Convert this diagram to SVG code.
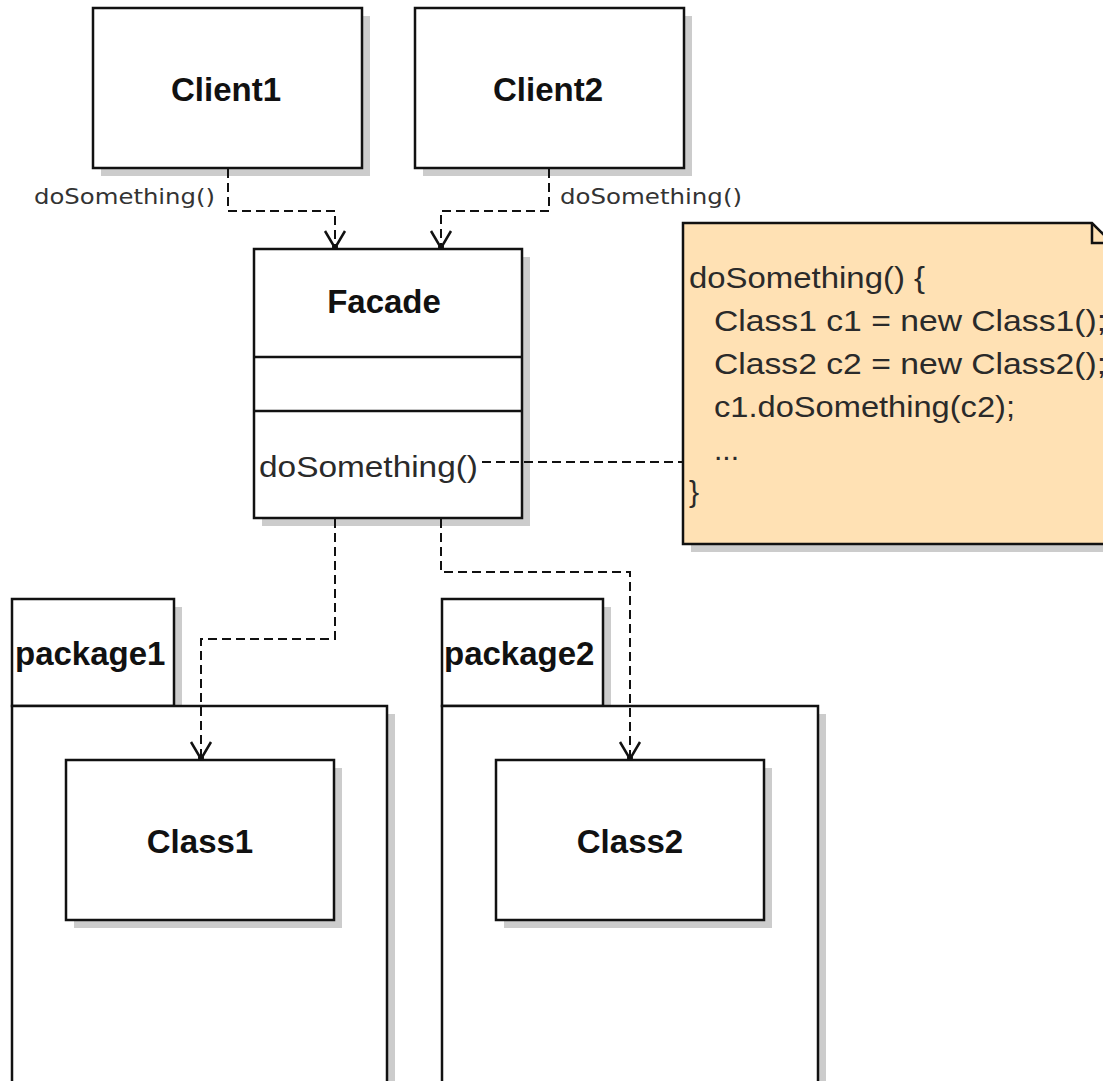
<svg xmlns="http://www.w3.org/2000/svg" width="1103" height="1081" viewBox="0 0 1103 1081">
<defs>
<style>
.box{fill:#ffffff;stroke:#111111;stroke-width:2.5}
.shadow{fill:#cccccc}
.note{fill:#ffe1b4;stroke:#111111;stroke-width:2.5}
.title{font-family:"Liberation Sans",Arial,sans-serif;font-weight:bold;font-size:33px;fill:#111111}
.code{font-family:"Liberation Sans",Arial,sans-serif;font-size:30px;fill:#2a2a2a}
.lbl{font-family:"DejaVu Sans","Open Sans",sans-serif;font-size:21px;fill:#333333}
.dash{fill:none;stroke:#111111;stroke-width:2;stroke-dasharray:9 5}
</style>
<marker id="open" viewBox="-20 -12 22 24" refX="0" refY="0" markerWidth="22" markerHeight="24" markerUnits="userSpaceOnUse" orient="auto">
<path d="M -17 -10 L 0 0 L -17 10" fill="none" stroke="#111111" stroke-width="2.5" stroke-dasharray="none"/>
<circle cx="-1" cy="0" r="3" fill="#111111"/>
</marker>
</defs>
<rect width="1103" height="1081" fill="#ffffff"/>

<g id="package1">
<rect class="shadow" x="20" y="607" width="162" height="107"/>
<rect class="shadow" x="20" y="714" width="375" height="380"/>
<rect class="box" x="12" y="599" width="162" height="107"/>
<rect class="box" x="12" y="706" width="375" height="380"/>
<text class="title" x="15" y="665">package1</text>
</g>

<g id="package2">
<rect class="shadow" x="450" y="607" width="161" height="107"/>
<rect class="shadow" x="450" y="714" width="376" height="380"/>
<rect class="box" x="442" y="599" width="161" height="107"/>
<rect class="box" x="442" y="706" width="376" height="380"/>
<text class="title" x="444" y="665">package2</text>
</g>

<g id="client1">
<rect class="shadow" x="101" y="16" width="269" height="160"/>
<rect class="box" x="93" y="8" width="269" height="160"/>
<text class="title" x="226" y="101" text-anchor="middle">Client1</text>
</g>

<g id="client2">
<rect class="shadow" x="423" y="16" width="269" height="160"/>
<rect class="box" x="415" y="8" width="269" height="160"/>
<text class="title" x="548" y="101" text-anchor="middle">Client2</text>
</g>

<g id="facade">
<rect class="shadow" x="262" y="257" width="268" height="269"/>
<rect class="box" x="254" y="249" width="268" height="269"/>
<line x1="254" y1="357" x2="522" y2="357" stroke="#111111" stroke-width="2.5"/>
<line x1="254" y1="411" x2="522" y2="411" stroke="#111111" stroke-width="2.5"/>
<text class="title" x="384" y="313" text-anchor="middle">Facade</text>
<text class="code" x="259" y="477" textLength="219" lengthAdjust="spacingAndGlyphs">doSomething()</text>
</g>

<g id="note">
<rect class="shadow" x="691" y="231" width="420" height="321"/>
<path class="note" d="M 683 223 L 1092 223 L 1112 243 L 1112 544 L 683 544 Z"/>
<path d="M 1092 223 L 1092 243 L 1112 243" fill="none" stroke="#111111" stroke-width="2.5"/>
<text class="code" x="689" y="288" textLength="236" lengthAdjust="spacingAndGlyphs">doSomething() {</text>
<text class="code" x="714" y="331" textLength="392" lengthAdjust="spacingAndGlyphs">Class1 c1 = new Class1();</text>
<text class="code" x="714" y="374" textLength="392" lengthAdjust="spacingAndGlyphs">Class2 c2 = new Class2();</text>
<text class="code" x="714" y="417" textLength="301" lengthAdjust="spacingAndGlyphs">c1.doSomething(c2);</text>
<text class="code" x="714" y="460" font-size="22">...</text>
<text class="code" x="689" y="502">}</text>
</g>

<g id="class1">
<rect class="shadow" x="74" y="768" width="268" height="160"/>
<rect class="box" x="66" y="760" width="268" height="160"/>
<text class="title" x="200" y="853" text-anchor="middle">Class1</text>
</g>

<g id="class2">
<rect class="shadow" x="504" y="768" width="268" height="160"/>
<rect class="box" x="496" y="760" width="268" height="160"/>
<text class="title" x="630" y="853" text-anchor="middle">Class2</text>
</g>

<g id="connectors">
<path class="dash" d="M 228 169 L 228 211 L 335 211 L 335 248" marker-end="url(#open)"/>
<text class="lbl" x="34" y="204" textLength="181" lengthAdjust="spacingAndGlyphs">doSomething()</text>
<path class="dash" d="M 549 169 L 549 211 L 441 211 L 441 248" marker-end="url(#open)"/>
<text class="lbl" x="560" y="204" textLength="182" lengthAdjust="spacingAndGlyphs">doSomething()</text>
<path class="dash" d="M 482 462 L 683 462"/>
<path class="dash" d="M 335 519 L 335 639 L 201 639 L 201 759" marker-end="url(#open)"/>
<path class="dash" d="M 441 519 L 441 572 L 630 572 L 630 759" marker-end="url(#open)"/>
</g>
</svg>
